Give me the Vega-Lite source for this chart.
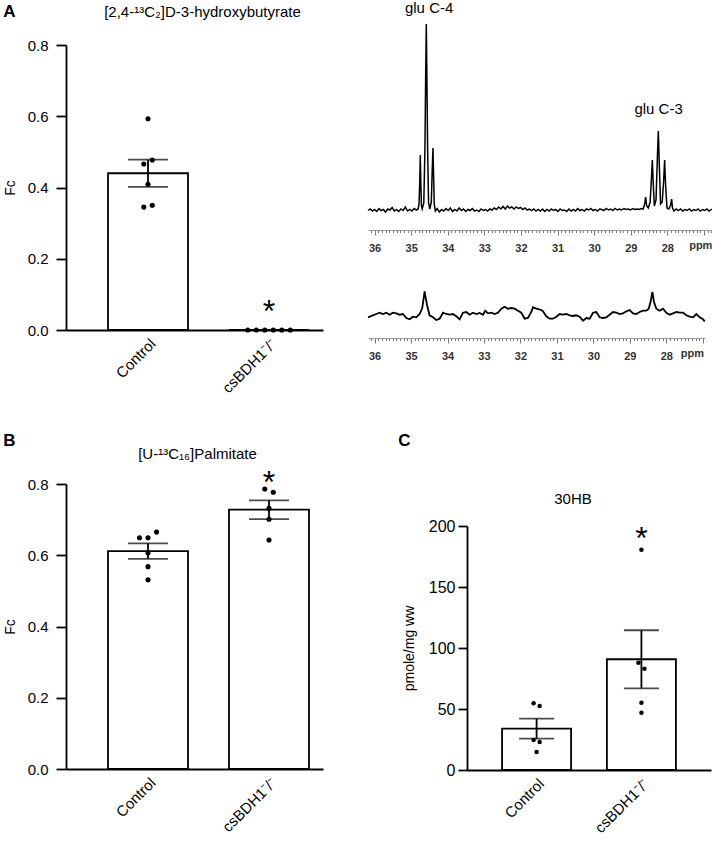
{
  "$schema": "https://vega.github.io/schema/vega-lite/v6.json",
  "padding": {"left": 3, "top": 1, "right": 0, "bottom": 0},
  "background": "white",
  "config": {
    "font": "Liberation Sans",
    "view": {"stroke": null},
    "axis": {"grid": false, "domainColor": "black", "tickColor": "black", "labelColor": "black", "titleColor": "black", "labelFont": "Liberation Sans", "titleFont": "Liberation Sans", "titleFontWeight": "normal"},
    "title": {"font": "Liberation Sans", "fontWeight": "normal", "fontSize": 15, "color": "black"}
  },
  "datasets": {
    "hb": [
      {"group": "Control", "value": 0.593, "j": 0},
      {"group": "Control", "value": 0.477, "j": 1},
      {"group": "Control", "value": 0.466, "j": -1},
      {"group": "Control", "value": 0.409, "j": 0},
      {"group": "Control", "value": 0.345, "j": -1},
      {"group": "Control", "value": 0.35, "j": 1},
      {"group": "csBDH1⁻/⁻", "value": 0, "j": -5},
      {"group": "csBDH1⁻/⁻", "value": 0, "j": -3},
      {"group": "csBDH1⁻/⁻", "value": 0, "j": -1},
      {"group": "csBDH1⁻/⁻", "value": 0, "j": 1},
      {"group": "csBDH1⁻/⁻", "value": 0, "j": 3},
      {"group": "csBDH1⁻/⁻", "value": 0, "j": 5}
    ],
    "palm": [
      {"group": "Control", "value": 0.649, "j": -2},
      {"group": "Control", "value": 0.649, "j": 0},
      {"group": "Control", "value": 0.665, "j": 2},
      {"group": "Control", "value": 0.607, "j": 0},
      {"group": "Control", "value": 0.568, "j": 0},
      {"group": "Control", "value": 0.531, "j": 0},
      {"group": "csBDH1⁻/⁻", "value": 0.786, "j": -1},
      {"group": "csBDH1⁻/⁻", "value": 0.777, "j": 1},
      {"group": "csBDH1⁻/⁻", "value": 0.732, "j": 0},
      {"group": "csBDH1⁻/⁻", "value": 0.701, "j": 0},
      {"group": "csBDH1⁻/⁻", "value": 0.643, "j": 0}
    ],
    "ohb": [
      {"group": "Control", "value": 54.7, "j": -1},
      {"group": "Control", "value": 52.5, "j": 1},
      {"group": "Control", "value": 24.6, "j": -1},
      {"group": "Control", "value": 23, "j": 1},
      {"group": "Control", "value": 14.8, "j": 0},
      {"group": "csBDH1⁻/⁻", "value": 180.6, "j": 0},
      {"group": "csBDH1⁻/⁻", "value": 88, "j": -1},
      {"group": "csBDH1⁻/⁻", "value": 83, "j": 1},
      {"group": "csBDH1⁻/⁻", "value": 55.2, "j": 0},
      {"group": "csBDH1⁻/⁻", "value": 47, "j": 0}
    ],
    "sigA": [{"group": "csBDH1⁻/⁻", "value": 0.069, "label": "*"}],
    "sigB": [{"group": "csBDH1⁻/⁻", "value": 0.822, "label": "*"}],
    "sigC": [{"group": "csBDH1⁻/⁻", "value": 195.3, "label": "*"}],
    "peaks": [
      {"ppm": 34.51, "I": 217, "label": "glu C-4"},
      {"ppm": 28.24, "I": 116, "label": "glu C-3"}
    ],
    "spec1": [
      {"ppm": 36.18, "I": 19.5}, {"ppm": 36.12, "I": 21}, {"ppm": 36.06, "I": 19}, {"ppm": 36.0, "I": 20.5},
      {"ppm": 35.94, "I": 18.5}, {"ppm": 35.88, "I": 21.5}, {"ppm": 35.82, "I": 19.5}, {"ppm": 35.76, "I": 20.5},
      {"ppm": 35.7, "I": 18}, {"ppm": 35.64, "I": 21}, {"ppm": 35.58, "I": 20}, {"ppm": 35.52, "I": 22.5},
      {"ppm": 35.46, "I": 19}, {"ppm": 35.4, "I": 20.5}, {"ppm": 35.34, "I": 18.5}, {"ppm": 35.28, "I": 21},
      {"ppm": 35.22, "I": 19.5}, {"ppm": 35.16, "I": 23}, {"ppm": 35.1, "I": 19}, {"ppm": 35.04, "I": 20.5},
      {"ppm": 34.98, "I": 19}, {"ppm": 34.92, "I": 21.5}, {"ppm": 34.86, "I": 20}, {"ppm": 34.81, "I": 21},
      {"ppm": 34.785, "I": 26}, {"ppm": 34.765, "I": 50}, {"ppm": 34.751, "I": 75}, {"ppm": 34.737, "I": 48},
      {"ppm": 34.72, "I": 24}, {"ppm": 34.7, "I": 21}, {"ppm": 34.655, "I": 27}, {"ppm": 34.625, "I": 80},
      {"ppm": 34.605, "I": 150}, {"ppm": 34.587, "I": 206}, {"ppm": 34.57, "I": 150}, {"ppm": 34.55, "I": 80},
      {"ppm": 34.525, "I": 27}, {"ppm": 34.49, "I": 21}, {"ppm": 34.45, "I": 28}, {"ppm": 34.425, "I": 60},
      {"ppm": 34.405, "I": 82}, {"ppm": 34.39, "I": 58}, {"ppm": 34.37, "I": 26}, {"ppm": 34.34, "I": 19},
      {"ppm": 34.29, "I": 21.5}, {"ppm": 34.23, "I": 18}, {"ppm": 34.17, "I": 20.5}, {"ppm": 34.11, "I": 19},
      {"ppm": 34.05, "I": 21.5}, {"ppm": 33.99, "I": 19.5}, {"ppm": 33.93, "I": 22}, {"ppm": 33.87, "I": 18.5},
      {"ppm": 33.81, "I": 20.5}, {"ppm": 33.75, "I": 19}, {"ppm": 33.69, "I": 22}, {"ppm": 33.63, "I": 19.5},
      {"ppm": 33.57, "I": 21}, {"ppm": 33.51, "I": 18.5}, {"ppm": 33.45, "I": 20.5}, {"ppm": 33.39, "I": 19.5},
      {"ppm": 33.33, "I": 21.5}, {"ppm": 33.27, "I": 19}, {"ppm": 33.21, "I": 20}, {"ppm": 33.15, "I": 18.5},
      {"ppm": 33.09, "I": 21}, {"ppm": 33.03, "I": 19.5}, {"ppm": 32.97, "I": 20.5}, {"ppm": 32.91, "I": 19},
      {"ppm": 32.85, "I": 21}, {"ppm": 32.79, "I": 20}, {"ppm": 32.73, "I": 22}, {"ppm": 32.67, "I": 20.5},
      {"ppm": 32.61, "I": 23}, {"ppm": 32.55, "I": 21}, {"ppm": 32.49, "I": 23.5}, {"ppm": 32.43, "I": 21},
      {"ppm": 32.37, "I": 24}, {"ppm": 32.31, "I": 22}, {"ppm": 32.25, "I": 23}, {"ppm": 32.19, "I": 21},
      {"ppm": 32.13, "I": 23}, {"ppm": 32.07, "I": 21.5}, {"ppm": 32.01, "I": 22.5}, {"ppm": 31.95, "I": 20.5},
      {"ppm": 31.89, "I": 22}, {"ppm": 31.83, "I": 20}, {"ppm": 31.77, "I": 21}, {"ppm": 31.71, "I": 19.5},
      {"ppm": 31.65, "I": 21}, {"ppm": 31.59, "I": 19}, {"ppm": 31.53, "I": 20.5}, {"ppm": 31.47, "I": 19},
      {"ppm": 31.41, "I": 21}, {"ppm": 31.35, "I": 18.5}, {"ppm": 31.29, "I": 20.5}, {"ppm": 31.23, "I": 19},
      {"ppm": 31.17, "I": 21}, {"ppm": 31.11, "I": 19.5}, {"ppm": 31.05, "I": 20.5}, {"ppm": 30.99, "I": 18.5},
      {"ppm": 30.93, "I": 21}, {"ppm": 30.87, "I": 19.5}, {"ppm": 30.81, "I": 20}, {"ppm": 30.75, "I": 18.5},
      {"ppm": 30.69, "I": 21}, {"ppm": 30.63, "I": 19}, {"ppm": 30.57, "I": 20.5}, {"ppm": 30.51, "I": 19},
      {"ppm": 30.45, "I": 21.5}, {"ppm": 30.39, "I": 19.5}, {"ppm": 30.33, "I": 20.5}, {"ppm": 30.27, "I": 19},
      {"ppm": 30.21, "I": 21}, {"ppm": 30.15, "I": 20}, {"ppm": 30.09, "I": 21.5}, {"ppm": 30.03, "I": 19.5},
      {"ppm": 29.97, "I": 20.5}, {"ppm": 29.91, "I": 19}, {"ppm": 29.85, "I": 21}, {"ppm": 29.79, "I": 20.5},
      {"ppm": 29.73, "I": 19.5}, {"ppm": 29.67, "I": 21.5}, {"ppm": 29.61, "I": 20}, {"ppm": 29.55, "I": 21},
      {"ppm": 29.49, "I": 19.5}, {"ppm": 29.43, "I": 21.5}, {"ppm": 29.37, "I": 20}, {"ppm": 29.31, "I": 21},
      {"ppm": 29.25, "I": 20}, {"ppm": 29.19, "I": 21.5}, {"ppm": 29.13, "I": 20.5}, {"ppm": 29.07, "I": 21},
      {"ppm": 29.01, "I": 20}, {"ppm": 28.95, "I": 21.5}, {"ppm": 28.89, "I": 20.5}, {"ppm": 28.83, "I": 21},
      {"ppm": 28.77, "I": 20.5}, {"ppm": 28.71, "I": 21.5}, {"ppm": 28.66, "I": 21},
      {"ppm": 28.62, "I": 26}, {"ppm": 28.593, "I": 33}, {"ppm": 28.565, "I": 24}, {"ppm": 28.52, "I": 22},
      {"ppm": 28.47, "I": 28}, {"ppm": 28.44, "I": 48}, {"ppm": 28.411, "I": 70}, {"ppm": 28.385, "I": 46},
      {"ppm": 28.355, "I": 24}, {"ppm": 28.31, "I": 30}, {"ppm": 28.275, "I": 70}, {"ppm": 28.247, "I": 99},
      {"ppm": 28.22, "I": 65}, {"ppm": 28.185, "I": 26}, {"ppm": 28.14, "I": 28}, {"ppm": 28.1, "I": 50},
      {"ppm": 28.074, "I": 70}, {"ppm": 28.05, "I": 46}, {"ppm": 28.01, "I": 22}, {"ppm": 27.96, "I": 21},
      {"ppm": 27.91, "I": 25}, {"ppm": 27.883, "I": 31}, {"ppm": 27.86, "I": 22}, {"ppm": 27.82, "I": 19},
      {"ppm": 27.76, "I": 21}, {"ppm": 27.7, "I": 19.5}, {"ppm": 27.64, "I": 21}, {"ppm": 27.58, "I": 19},
      {"ppm": 27.52, "I": 20.5}, {"ppm": 27.46, "I": 19.5}, {"ppm": 27.4, "I": 21}, {"ppm": 27.34, "I": 19},
      {"ppm": 27.28, "I": 20.5}, {"ppm": 27.22, "I": 19.5}, {"ppm": 27.16, "I": 21}, {"ppm": 27.1, "I": 19},
      {"ppm": 27.04, "I": 20.5}, {"ppm": 26.98, "I": 19.5}, {"ppm": 26.92, "I": 21}, {"ppm": 26.86, "I": 19},
      {"ppm": 26.8, "I": 20.5}, {"ppm": 26.78, "I": 21}
    ],
    "spec2": [
      {"ppm": 36.18, "I": 20.7}, {"ppm": 36.045, "I": 22.7}, {"ppm": 35.953, "I": 24}, {"ppm": 35.862, "I": 25.3},
      {"ppm": 35.77, "I": 24}, {"ppm": 35.679, "I": 25.3}, {"ppm": 35.588, "I": 23.3}, {"ppm": 35.496, "I": 25.3},
      {"ppm": 35.405, "I": 24.7}, {"ppm": 35.313, "I": 23.3}, {"ppm": 35.222, "I": 24}, {"ppm": 35.131, "I": 20},
      {"ppm": 35.039, "I": 18.7}, {"ppm": 34.948, "I": 21.3}, {"ppm": 34.856, "I": 20.7}, {"ppm": 34.765, "I": 24},
      {"ppm": 34.692, "I": 30}, {"ppm": 34.628, "I": 46.7}, {"ppm": 34.564, "I": 33.3}, {"ppm": 34.491, "I": 22.7},
      {"ppm": 34.399, "I": 20.7}, {"ppm": 34.308, "I": 18}, {"ppm": 34.216, "I": 19.3}, {"ppm": 34.125, "I": 25.3},
      {"ppm": 34.033, "I": 24}, {"ppm": 33.942, "I": 23.3}, {"ppm": 33.851, "I": 24}, {"ppm": 33.759, "I": 21.7},
      {"ppm": 33.668, "I": 18.7}, {"ppm": 33.576, "I": 25.3}, {"ppm": 33.485, "I": 26}, {"ppm": 33.394, "I": 23.3},
      {"ppm": 33.302, "I": 25.3}, {"ppm": 33.211, "I": 24}, {"ppm": 33.119, "I": 25}, {"ppm": 33.028, "I": 23.3},
      {"ppm": 32.964, "I": 27.3}, {"ppm": 32.891, "I": 24.7}, {"ppm": 32.799, "I": 25.3}, {"ppm": 32.708, "I": 24},
      {"ppm": 32.616, "I": 25.3}, {"ppm": 32.525, "I": 29.3}, {"ppm": 32.434, "I": 31.3}, {"ppm": 32.342, "I": 29.3},
      {"ppm": 32.251, "I": 30}, {"ppm": 32.159, "I": 29.3}, {"ppm": 32.068, "I": 27.3}, {"ppm": 31.976, "I": 25.3},
      {"ppm": 31.885, "I": 19.3}, {"ppm": 31.794, "I": 20}, {"ppm": 31.702, "I": 26}, {"ppm": 31.657, "I": 30.7},
      {"ppm": 31.565, "I": 29.3}, {"ppm": 31.428, "I": 28}, {"ppm": 31.382, "I": 26.7}, {"ppm": 31.291, "I": 21.7},
      {"ppm": 31.199, "I": 19.3}, {"ppm": 31.108, "I": 19.3}, {"ppm": 31.016, "I": 21.3}, {"ppm": 30.925, "I": 24},
      {"ppm": 30.834, "I": 23.3}, {"ppm": 30.742, "I": 24}, {"ppm": 30.651, "I": 22.7}, {"ppm": 30.559, "I": 22},
      {"ppm": 30.468, "I": 22.7}, {"ppm": 30.377, "I": 21.3}, {"ppm": 30.285, "I": 17.3}, {"ppm": 30.194, "I": 20},
      {"ppm": 30.102, "I": 19.3}, {"ppm": 30.011, "I": 25.3}, {"ppm": 29.919, "I": 26}, {"ppm": 29.828, "I": 20.7},
      {"ppm": 29.736, "I": 20}, {"ppm": 29.645, "I": 20.7}, {"ppm": 29.554, "I": 23.3}, {"ppm": 29.462, "I": 26},
      {"ppm": 29.371, "I": 25.3}, {"ppm": 29.279, "I": 24}, {"ppm": 29.188, "I": 24.7}, {"ppm": 29.097, "I": 26.7},
      {"ppm": 29.005, "I": 28}, {"ppm": 28.914, "I": 24.7}, {"ppm": 28.822, "I": 24}, {"ppm": 28.731, "I": 26},
      {"ppm": 28.639, "I": 27.3}, {"ppm": 28.548, "I": 27.3}, {"ppm": 28.484, "I": 29.3}, {"ppm": 28.429, "I": 36.7},
      {"ppm": 28.383, "I": 46}, {"ppm": 28.338, "I": 36}, {"ppm": 28.274, "I": 29.3}, {"ppm": 28.182, "I": 27.3},
      {"ppm": 28.091, "I": 29.3}, {"ppm": 28.0, "I": 25.3}, {"ppm": 27.908, "I": 23.3}, {"ppm": 27.817, "I": 24.7},
      {"ppm": 27.725, "I": 26}, {"ppm": 27.634, "I": 25.3}, {"ppm": 27.542, "I": 25.3}, {"ppm": 27.451, "I": 22.7},
      {"ppm": 27.36, "I": 21.3}, {"ppm": 27.268, "I": 20.7}, {"ppm": 27.177, "I": 24}, {"ppm": 27.085, "I": 20.7},
      {"ppm": 26.994, "I": 18.7}, {"ppm": 26.948, "I": 16.7}
    ]
  },
  "vconcat": [
    {
      "title": {"text": "A", "anchor": "start", "offset": -20, "fontSize": 17, "fontWeight": "bold"},
      "spacing": 41,
      "hconcat": [
        {
          "width": 257, "height": 285,
          "title": {"text": "[2,4-¹³C₂]D-3-hydroxybutyrate", "dx": 8, "offset": 18},
          "resolve": {"scale": {"xOffset": "independent"}},
          "layer": [
            {
              "data": {"name": "hb"},
              "mark": {"type": "bar", "fill": "white", "stroke": "black", "strokeWidth": 1.8, "width": 80},
              "encoding": {
                "x": {"field": "group", "type": "nominal", "title": null,
                  "scale": {"domain": ["Control", "csBDH1⁻/⁻"], "paddingInner": 0.339, "paddingOuter": 0.2316, "align": 0.75},
                  "axis": {"labelAngle": -45, "ticks": false, "labelFontSize": 15, "labelPadding": 6, "domainWidth": 1.8}},
                "y": {"aggregate": "mean", "field": "value", "type": "quantitative", "title": "Fc",
                  "scale": {"domain": [0, 0.8], "nice": false},
                  "axis": {"values": [0, 0.2, 0.4, 0.6, 0.8], "format": ".1f", "tickSize": 10, "tickWidth": 1.8, "domainWidth": 1.8, "labelFontSize": 15, "labelPadding": 8, "titleFontSize": 14, "titlePadding": 10}}
              }
            },
            {
              "data": {"name": "hb"},
              "mark": {"type": "errorbar", "extent": "stderr", "color": "black", "ticks": {"size": 40, "thickness": 1.8}, "rule": {"strokeWidth": 1.8}},
              "encoding": {
                "x": {"field": "group", "type": "nominal", "title": null},
                "y": {"field": "value", "type": "quantitative", "title": "Fc"}
              }
            },
            {
              "data": {"name": "hb"},
              "mark": {"type": "circle", "size": 26, "color": "black", "opacity": 1},
              "encoding": {
                "x": {"field": "group", "type": "nominal", "title": null},
                "xOffset": {"field": "j", "type": "quantitative", "scale": {"domain": [-5, 5], "range": [18.75, 61.25]}},
                "y": {"field": "value", "type": "quantitative", "title": "Fc"}
              }
            },
            {
              "data": {"name": "sigA"},
              "mark": {"type": "text", "fontSize": 32, "baseline": "middle", "dy": 7, "color": "black"},
              "encoding": {
                "x": {"field": "group", "type": "nominal", "title": null},
                "y": {"field": "value", "type": "quantitative", "title": "Fc"},
                "text": {"field": "label"}
              }
            }
          ]
        },
        {
          "spacing": 25,
          "vconcat": [
            {
              "width": 344, "height": 185,
              "resolve": {"axis": {"x": "independent", "y": "independent"}},
              "layer": [
                {
                  "data": {"name": "spec1"},
                  "mark": {"type": "line", "color": "black", "strokeWidth": 1.5},
                  "encoding": {
                    "x": {"field": "ppm", "type": "quantitative", "title": null,
                      "scale": {"domain": [26.78, 36.18], "reverse": true, "nice": false, "zero": false},
                      "axis": {
                        "orient": "bottom",
                        "values": [36.1,36,35.9,35.8,35.7,35.6,35.5,35.4,35.3,35.2,35.1,35,34.9,34.8,34.7,34.6,34.5,34.4,34.3,34.2,34.1,34,33.9,33.8,33.7,33.6,33.5,33.4,33.3,33.2,33.1,33,32.9,32.8,32.7,32.6,32.5,32.4,32.3,32.2,32.1,32,31.9,31.8,31.7,31.6,31.5,31.4,31.3,31.2,31.1,31,30.9,30.8,30.7,30.6,30.5,30.4,30.3,30.2,30.1,30,29.9,29.8,29.7,29.6,29.5,29.4,29.3,29.2,29.1,29,28.9,28.8,28.7,28.6,28.5,28.4,28.3,28.2,28.1,28,27.9,27.8,27.7,27.6,27.5,27.4,27.3,27.2,27.1,27,26.9,26.8],
                        "labelExpr": "abs(datum.value-27.1)<0.01 ? 'ppm' : ((datum.value > 27.5 && abs(datum.value-round(datum.value))<0.01) ? format(datum.value,'d') : '')",
                        "tickSize": {"condition": {"test": "abs(datum.value-round(datum.value))<0.01", "value": 5}, "value": 2.5},
                        "domainColor": "#9a9a9a", "tickColor": "#777777", "labelColor": "#333333", "labelFontWeight": "bold", "labelFontSize": 11,
                        "labelPadding": 7, "labelOverlap": false, "labelFlush": false, "labelBound": false, "domainWidth": 1, "tickWidth": 1
                      }},
                    "y": {"field": "I", "type": "quantitative", "scale": {"domain": [0, 185], "nice": false, "zero": false}, "axis": null}
                  }
                },
                {
                  "data": {"name": "peaks"},
                  "mark": {"type": "text", "fontSize": 15, "color": "black", "baseline": "alphabetic"},
                  "encoding": {
                    "x": {"field": "ppm", "type": "quantitative", "axis": null},
                    "y": {"field": "I", "type": "quantitative", "axis": null},
                    "text": {"field": "label"}
                  }
                }
              ]
            },
            {
              "width": 337, "height": 60,
              "data": {"name": "spec2"},
              "mark": {"type": "line", "color": "black", "strokeWidth": 1.8},
              "encoding": {
                "x": {"field": "ppm", "type": "quantitative", "title": null,
                  "scale": {"domain": [26.94, 36.18], "reverse": true, "nice": false, "zero": false},
                  "axis": {
                    "values": [36.1,36,35.9,35.8,35.7,35.6,35.5,35.4,35.3,35.2,35.1,35,34.9,34.8,34.7,34.6,34.5,34.4,34.3,34.2,34.1,34,33.9,33.8,33.7,33.6,33.5,33.4,33.3,33.2,33.1,33,32.9,32.8,32.7,32.6,32.5,32.4,32.3,32.2,32.1,32,31.9,31.8,31.7,31.6,31.5,31.4,31.3,31.2,31.1,31,30.9,30.8,30.7,30.6,30.5,30.4,30.3,30.2,30.1,30,29.9,29.8,29.7,29.6,29.5,29.4,29.3,29.2,29.1,29,28.9,28.8,28.7,28.6,28.5,28.4,28.3,28.2,28.1,28,27.9,27.8,27.7,27.6,27.5,27.4,27.3,27.2,27.1,27],
                    "labelExpr": "abs(datum.value-27.3)<0.01 ? 'ppm' : ((datum.value > 27.5 && abs(datum.value-round(datum.value))<0.01) ? format(datum.value,'d') : '')",
                    "tickSize": {"condition": {"test": "abs(datum.value-round(datum.value))<0.01", "value": 5}, "value": 2.5},
                    "domainColor": "#9a9a9a", "tickColor": "#777777", "labelColor": "#333333", "labelFontWeight": "bold", "labelFontSize": 11,
                    "labelPadding": 7, "labelOverlap": false, "labelFlush": false, "labelBound": false, "domainWidth": 1, "tickWidth": 1
                  }},
                "y": {"field": "I", "type": "quantitative", "scale": {"domain": [0, 60], "nice": false, "zero": false}, "axis": null}
              }
            }
          ]
        }
      ]
    },
    {
      "spacing": 75,
      "hconcat": [
        {
          "title": {"text": "B", "anchor": "start", "offset": -2.5, "fontSize": 17, "fontWeight": "bold"},
          "vconcat": [
            {
              "width": 257, "height": 285,
              "title": {"text": "[U-¹³C₁₆]Palmitate", "dx": 3, "offset": 5},
              "resolve": {"scale": {"xOffset": "independent"}},
              "layer": [
                {
                  "data": {"name": "palm"},
                  "mark": {"type": "bar", "fill": "white", "stroke": "black", "strokeWidth": 1.8, "width": 80},
                  "encoding": {
                    "x": {"field": "group", "type": "nominal", "title": null,
                      "scale": {"domain": ["Control", "csBDH1⁻/⁻"], "paddingInner": 0.339, "paddingOuter": 0.2316, "align": 0.75},
                      "axis": {"labelAngle": -45, "ticks": false, "labelFontSize": 15, "labelPadding": 6, "domainWidth": 1.8}},
                    "y": {"aggregate": "mean", "field": "value", "type": "quantitative", "title": "Fc",
                      "scale": {"domain": [0, 0.8], "nice": false},
                      "axis": {"values": [0, 0.2, 0.4, 0.6, 0.8], "format": ".1f", "tickSize": 10, "tickWidth": 1.8, "domainWidth": 1.8, "labelFontSize": 15, "labelPadding": 8, "titleFontSize": 14, "titlePadding": 10}}
                  }
                },
                {
                  "data": {"name": "palm"},
                  "mark": {"type": "errorbar", "extent": "stderr", "color": "black", "ticks": {"size": 40, "thickness": 1.8}, "rule": {"strokeWidth": 1.8}},
                  "encoding": {
                    "x": {"field": "group", "type": "nominal", "title": null},
                    "y": {"field": "value", "type": "quantitative", "title": "Fc"}
                  }
                },
                {
                  "data": {"name": "palm"},
                  "mark": {"type": "circle", "size": 26, "color": "black", "opacity": 1},
                  "encoding": {
                    "x": {"field": "group", "type": "nominal", "title": null},
                    "xOffset": {"field": "j", "type": "quantitative", "scale": {"domain": [-5, 5], "range": [18.75, 61.25]}},
                    "y": {"field": "value", "type": "quantitative", "title": "Fc"}
                  }
                },
                {
                  "data": {"name": "sigB"},
                  "mark": {"type": "text", "fontSize": 32, "baseline": "middle", "dy": 7, "color": "black"},
                  "encoding": {
                    "x": {"field": "group", "type": "nominal", "title": null},
                    "y": {"field": "value", "type": "quantitative", "title": "Fc"},
                    "text": {"field": "label"}
                  }
                }
              ]
            }
          ]
        },
        {
          "title": {"text": "C", "anchor": "start", "offset": 31.5, "dx": -4, "fontSize": 17, "fontWeight": "bold"},
          "spacing": 4,
          "vconcat": [
            {
              "width": 244, "height": 1,
              "data": {"values": [{"k": 1}]},
              "mark": {"type": "point", "opacity": 0},
              "encoding": {}
            },
            {
              "width": 244, "height": 244,
              "title": {"text": "30HB", "dx": -16, "offset": 11},
              "resolve": {"scale": {"xOffset": "independent"}},
              "layer": [
                {
                  "data": {"name": "ohb"},
                  "mark": {"type": "bar", "fill": "white", "stroke": "black", "strokeWidth": 1.8, "width": 69},
                  "encoding": {
                    "x": {"field": "group", "type": "nominal", "title": null,
                      "scale": {"domain": ["Control", "csBDH1⁻/⁻"], "paddingInner": 0.342, "paddingOuter": 0.335, "align": 0.5},
                      "axis": {"labelAngle": -45, "ticks": false, "labelFontSize": 15, "labelPadding": 6, "domainWidth": 1.8}},
                    "y": {"aggregate": "mean", "field": "value", "type": "quantitative", "title": "pmole/mg ww",
                      "scale": {"domain": [0, 200], "nice": false},
                      "axis": {"values": [0, 50, 100, 150, 200], "tickSize": 9, "tickWidth": 1.8, "domainWidth": 1.8, "labelFontSize": 16, "labelPadding": 3, "titleFontSize": 14, "titlePadding": 12}}
                  }
                },
                {
                  "data": {"name": "ohb"},
                  "mark": {"type": "errorbar", "extent": "stderr", "color": "black", "ticks": {"size": 35, "thickness": 1.8}, "rule": {"strokeWidth": 1.8}},
                  "encoding": {
                    "x": {"field": "group", "type": "nominal", "title": null},
                    "y": {"field": "value", "type": "quantitative", "title": "pmole/mg ww"}
                  }
                },
                {
                  "data": {"name": "ohb"},
                  "mark": {"type": "circle", "size": 20, "color": "black", "opacity": 1},
                  "encoding": {
                    "x": {"field": "group", "type": "nominal", "title": null},
                    "xOffset": {"field": "j", "type": "quantitative", "scale": {"domain": [-5, 5], "range": [19.5, 49.5]}},
                    "y": {"field": "value", "type": "quantitative", "title": "pmole/mg ww"}
                  }
                },
                {
                  "data": {"name": "sigC"},
                  "mark": {"type": "text", "fontSize": 32, "baseline": "middle", "dy": 7, "color": "black"},
                  "encoding": {
                    "x": {"field": "group", "type": "nominal", "title": null},
                    "y": {"field": "value", "type": "quantitative", "title": "pmole/mg ww"},
                    "text": {"field": "label"}
                  }
                }
              ]
            }
          ]
        }
      ]
    }
  ],
  "spacing": 35
}
